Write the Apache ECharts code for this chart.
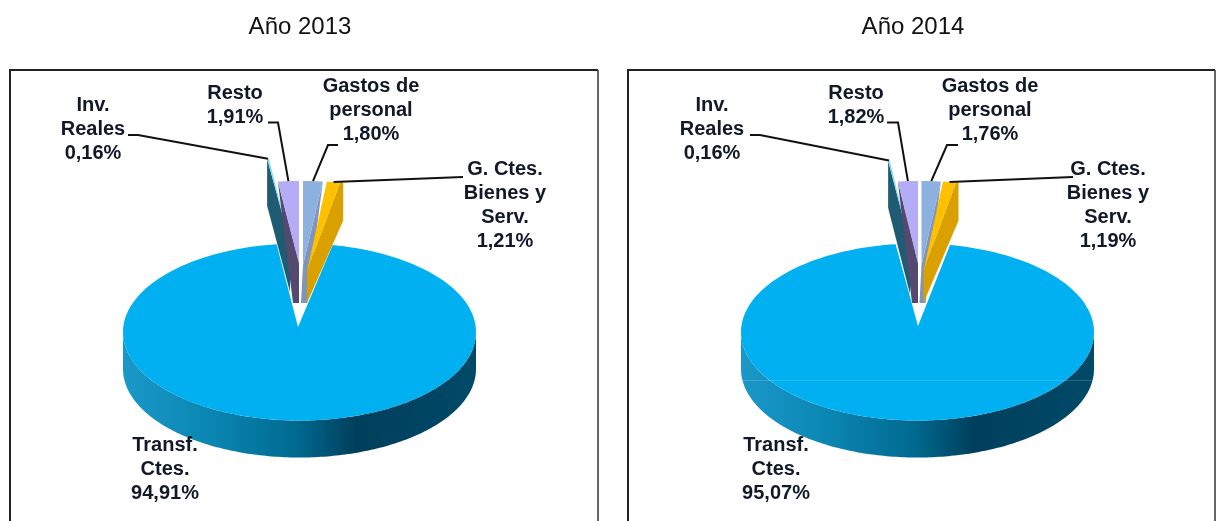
<!DOCTYPE html>
<html><head><meta charset="utf-8">
<style>html,body{margin:0;padding:0;background:#fff}#c{width:1216px;height:521px}</style>
<script src="https://cdn.jsdelivr.net/npm/echarts@6/dist/echarts.min.js"></script>
</head><body><div id="c"></div>
<script>
// ---- data ----
const years = ['Año 2013', 'Año 2014'];
const categories = ['Gastos de\npersonal', 'G. Ctes.\nBienes y\nServ.', 'Transf.\nCtes.', 'Inv.\nReales', 'Resto'];
const values2013 = [1.80, 1.21, 94.91, 0.16, 1.91];
const values2014 = [1.76, 1.19, 95.07, 0.16, 1.82];

// ---- style ----
const topColors  = ['#8DB1DE', '#FFC000', '#00B0F0', '#7FDDF5', '#B4ACF6'];
const wallColors = ['#7F95BC', '#D9A000', null, '#1F5B72', '#54496F'];
const MAIN = 2;
const RX = 176.5, RY = 88.5, DEPTH = 37;
// exploded-slice layout in px relative to the ellipse centre:
// dx, dy(up), radial height, apex depth, outer-edge drop, outer skew, wall tip x, wall tip width
const pull2013 = [[3.5,67,84,38,0,0,4,-6],[7.5,61,90,32,38,3,0,0],null,[-9.5,90,84,50,47,0,0,0],[-0.5,69,82,40,0,0,0,-6]];
const pull2014 = [[4,67,84,38,0,0,4,-6],[6,61,90,32,38,2.5,0,0],null,[-7.5,88,84,50,47,0,0,0],[0.5,69,82,40,0,0,0,-6]];
const gridLeft = [123, 741];
const gridTop = 243.5;
const apexOffset = [[-1.5, 5], [0.5, 6]]; // main slice apex offset from ellipse centre (x, y-up)
// label centres and leader polylines (px), index by category
const labelPos = [
  [[371,110],[505,205],[165,469.5],[93,129],[235,105]],
  [[990,110],[1108,205],[776,469.5],[712,129],[856,105]]
];
const leaders = [
  [[[338,145],[328,145]],[[463,177]],null,[[128,135],[138,135]],[[268,122.5],[278,122.5]]],
  [[[958,145],[947,145]],[[1073,177]],null,[[750,135],[760,135]],[[887,122.5],[898,122.5]]]
];
const sideGradient = [
  {offset:0,color:'#1A98C8'},{offset:0.25,color:'#0A86B2'},{offset:0.49,color:'#006A90'},
  {offset:0.66,color:'#003F5C'},{offset:1,color:'#004A68'}
];
const TEXT = '#111827';

function makeRender(panel, values, pulls){
  const total = values.reduce((a,b)=>a+b,0);
  const start = []; let acc = 0;
  values.forEach(v=>{start.push(acc); acc += v;});
  return function(params, api){
    const i = params.dataIndex;
    const a0 = start[i]/total*2*Math.PI, a1 = (start[i]+api.value(2))/total*2*Math.PI;
    const P = (ux,uy)=>api.coord([ux,uy]);
    const kids = [];
    const poly = (pts,fill,z)=>kids.push({type:'polygon',z2:z,shape:{points:pts},style:{fill:fill,stroke:null},silent:true});
    let leaderEnd;
    if(i===MAIN){
      const ax = apexOffset[panel][0]/RX, ay = apexOffset[panel][1]/RY;
      const pts = [P(ax,ay)];
      const N = 180;
      for(let k=0;k<=N;k++){const t=a0+(a1-a0)*k/N; pts.push(P(Math.sin(t),Math.cos(t)));}
      const wall = [], d = DEPTH/RY;
      for(let k=0;k<=N;k++){const t=Math.PI/2+Math.PI*k/N; wall.push(P(Math.sin(t),Math.cos(t)));}
      for(let k=N;k>=0;k--){const t=Math.PI/2+Math.PI*k/N; wall.push(P(Math.sin(t),Math.cos(t)-d));}
      poly(wall,new echarts.graphic.LinearGradient(0,0,1,0,sideGradient),1);
      poly(pts,topColors[i],2);
    } else {
      const [dx,dy,h,dep,drop,skew,tipX,tipW] = pulls[i];
      const cx = dx/RX, cy = dy/RY, hy = h/RY;
      const pt = t=>[cx+Math.sin(t), cy+Math.cos(t)*hy];
      const arc = [];
      for(let k=0;k<=8;k++){arc.push(pt(a0+(a1-a0)*k/8));}
      // wall on the radial edge facing the viewer
      const rightSide = i<MAIN;
      const o = rightSide ? arc[arc.length-1] : arc[0];
      const z = [4,5,2,3,4][i];
      const tx = cx+tipX/RX, by = cy-dep/RY, sk = skew/RX;
      const wall = [P(o[0],o[1])];
      if(skew) wall.push(P(o[0]+sk,o[1]));
      if(drop) wall.push(P(o[0]+sk,o[1]-drop/RY));
      if(rightSide){
        wall.push(P(tx,by));
        if(tipW) wall.push(P(tx+tipW/RX,by));
      } else {
        if(tipW) wall.push(P(tx+tipW/RX,by));
        wall.push(P(tx,by));
      }
      wall.push(P(cx,cy));
      poly(wall,wallColors[i],z);
      const pts = [P(cx,cy)].concat(arc.map(p=>P(p[0],p[1])));
      poly(pts,topColors[i],z);
      const m = pt((a0+a1)/2);
      leaderEnd = P(m[0],m[1]);
    }
    const lab = labelPos[panel][i];
    const pct = api.value(2).toFixed(2).replace('.',',')+'%';
    kids.push({type:'text',z2:9,silent:true,style:{text:categories[i]+'\n'+pct,x:lab[0],y:lab[1],align:'center',verticalAlign:'middle',
      font:'bold 20px "Liberation Sans", Arial, sans-serif',lineHeight:24,fill:TEXT}});
    const ld = leaders[panel][i];
    if(ld){
      kids.push({type:'polyline',z2:8,silent:true,shape:{points:ld.concat([leaderEnd])},style:{stroke:'#111',lineWidth:2,fill:null}});
    }
    return {type:'group',children:kids};
  };
}

function series(panel, values, pulls){
  return {type:'custom',coordinateSystem:'cartesian2d',xAxisIndex:panel,yAxisIndex:panel,clip:false,silent:true,
    animation:false,encode:{x:0,y:1},
    data:values.map((v,i)=>({name:categories[i].replace(/\n/g,' ').trim(),value:[0,0,v]})),
    renderItem:makeRender(panel,values,pulls)};
}
const unitAxis = idx=>({type:'value',gridIndex:idx,min:-1,max:1,show:false});

const chart = echarts.init(document.getElementById('c'),null,{renderer:'canvas'});
const frame = (x,w)=>[
  {type:'polyline',silent:true,z:0,shape:{points:[[x,522],[x,70],[x+w,70]]},style:{stroke:'#222',lineWidth:2,fill:null}},
  {type:'line',silent:true,z:0,shape:{x1:x+w,y1:70,x2:x+w,y2:522},style:{stroke:'#333',lineWidth:1.5}}
];
chart.setOption({
  animation:false,backgroundColor:'#fff',
  title:years.map((t,i)=>({text:t,left:[295,908][i],top:8,textAlign:'center',
    textStyle:{fontFamily:'"Liberation Sans", Arial, sans-serif',fontWeight:'normal',fontSize:24,color:'#111',lineHeight:28}})),
  grid:gridLeft.map(l=>({left:l,top:gridTop,width:2*RX,height:2*RY,show:false})),
  xAxis:[unitAxis(0),unitAxis(1)],
  yAxis:[unitAxis(0),unitAxis(1)],
  graphic:[...frame(10,588),...frame(628,587),
    {type:'line',silent:true,z:20,shape:{x1:741,y1:380.5,x2:1094,y2:380.5},style:{stroke:'rgba(255,255,255,0.16)',lineWidth:1}}],
  series:[series(0,values2013,pull2013),series(1,values2014,pull2014)]
});
</script></body></html>
